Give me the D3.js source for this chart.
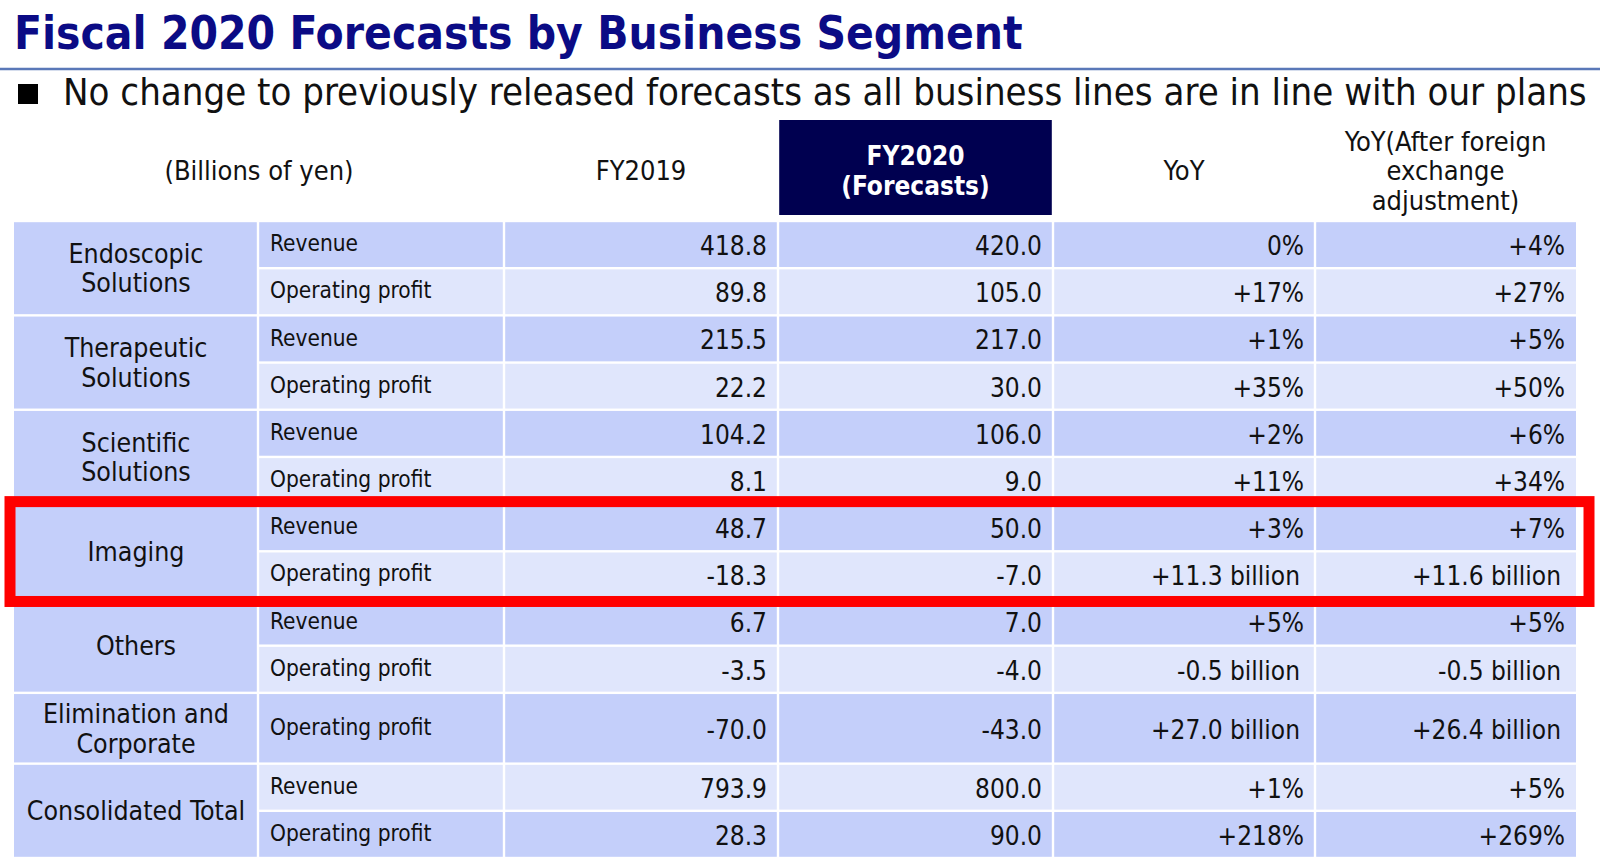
<!DOCTYPE html>
<html>
<head>
<meta charset="utf-8">
<script src="https://cdn.jsdelivr.net/npm/d3@7"></script>
<style>
  html, body { margin: 0; padding: 0; background: #fff; }
  svg text { font-family: "DejaVu Sans Condensed", "DejaVu Sans", sans-serif; font-stretch: condensed; }
</style>
</head>
<body>
<div id="chart"></div>
<script>
// table content
var title = "Fiscal 2020 Forecasts by Business Segment";
var subtitle = "No change to previously released forecasts as all business lines are in line with our plans";

var headers = [
  ["(Billions of yen)"],
  ["FY2019"],
  ["FY2020", "(Forecasts)"],
  ["YoY"],
  ["YoY(After foreign", "exchange", "adjustment)"]
];

var segments = [
  ["Endoscopic", "Solutions"],
  ["Therapeutic", "Solutions"],
  ["Scientific", "Solutions"],
  ["Imaging"],
  ["Others"],
  ["Elimination and", "Corporate"],
  ["Consolidated Total"]
];

var segmentItems = [
  ["Revenue", "Operating profit"],
  ["Revenue", "Operating profit"],
  ["Revenue", "Operating profit"],
  ["Revenue", "Operating profit"],
  ["Revenue", "Operating profit"],
  ["Operating profit"],
  ["Revenue", "Operating profit"]
];

var fy2019 = ["418.8", "89.8", "215.5", "22.2", "104.2", "8.1", "48.7", "-18.3", "6.7", "-3.5", "-70.0", "793.9", "28.3"];
var fy2020 = ["420.0", "105.0", "217.0", "30.0", "106.0", "9.0", "50.0", "-7.0", "7.0", "-4.0", "-43.0", "800.0", "90.0"];
var yoy = ["0%", "+17%", "+1%", "+35%", "+2%", "+11%", "+3%", "+11.3 billion", "+5%", "-0.5 billion", "+27.0 billion", "+1%", "+218%"];
var yoyFx = ["+4%", "+27%", "+5%", "+50%", "+6%", "+34%", "+7%", "+11.6 billion", "+5%", "-0.5 billion", "+26.4 billion", "+5%", "+269%"];

var highlighted = "Imaging";

// layout
var width = 1600, height = 862;
var colEdges = [14, 258, 504, 778, 1053, 1315, 1576];
var headerTop = 120, bodyTop = 221, bodyBottom = 858;
var gap = 2.4;
var darkFill = "#c4cffa", lightFill = "#e0e6fc";
var itemSize = 22.5, numSize = 26, labelSize = 26.5, headSize = 27;

var svg = d3.select("#chart")
  .append("svg")
    .attr("width", width)
    .attr("height", height);

// fit a text element to a target width
function fitWidth(sel, target) {
  var w = sel.node().getComputedTextLength();
  var fs = parseFloat(sel.attr("font-size"));
  sel.attr("font-size", fs * target / w);
}

// title
var titleText = svg.append("text")
  .attr("x", 14)
  .attr("y", 49)
  .attr("font-size", 46)
  .attr("font-weight", "bold")
  .attr("fill", "#0b0b85")
  .text(title);
fitWidth(titleText, 1009);

svg.append("line")
  .attr("x1", 0).attr("x2", width)
  .attr("y1", 69).attr("y2", 69)
  .attr("stroke", "#5a78b8")
  .attr("stroke-width", 2.5);

svg.append("rect")
  .attr("x", 18).attr("y", 84)
  .attr("width", 20).attr("height", 20)
  .attr("fill", "#000");

var subText = svg.append("text")
  .attr("x", 63)
  .attr("y", 105)
  .attr("font-size", 36)
  .attr("fill", "#111")
  .text(subtitle);
fitWidth(subText, 1524);

// build row list from segments
var rows = [];
var segRows = [];
var unit = 0, k = 0;
segments.forEach(function(seg, i) {
  var items = segmentItems[i];
  var h = items.length === 1 ? 1.5 : 1;
  var start = unit;
  items.forEach(function(item) {
    rows.push({
      segment: i, item: item, u0: unit, u1: unit + h, idx: k,
      values: [fy2019[k], fy2020[k], yoy[k], yoyFx[k]]
    });
    unit += h;
    k++;
  });
  segRows.push({ lines: seg, u0: start, u1: unit, name: seg.join(" ") });
});

var y = d3.scaleLinear()
  .domain([0, unit])
  .range([bodyTop, bodyBottom]);

// header
var head = svg.append("g");
head.append("rect")
  .attr("x", colEdges[3] + gap / 2)
  .attr("y", headerTop)
  .attr("width", colEdges[4] - colEdges[3] - gap)
  .attr("height", bodyTop - headerTop - 6)
  .attr("fill", "#000050");

var headerCenters = [
  (colEdges[0] + colEdges[2]) / 2,
  (colEdges[2] + colEdges[3]) / 2,
  (colEdges[3] + colEdges[4]) / 2,
  (colEdges[4] + colEdges[5]) / 2,
  (colEdges[5] + colEdges[6]) / 2
];
var headerMid = 170.5, lineH = 29.5;

headers.forEach(function(lines, i) {
  var t = head.append("text")
    .attr("text-anchor", "middle")
    .attr("font-size", i === 2 ? 26 : headSize)
    .attr("fill", i === 2 ? "#fff" : "#111")
    .attr("font-weight", i === 2 ? "bold" : "normal");
  t.selectAll("tspan")
    .data(lines)
    .enter()
    .append("tspan")
      .attr("x", headerCenters[i])
      .attr("y", function(d, j) { return headerMid + (j - (lines.length - 1) / 2) * lineH; })
      .attr("dy", "0.36em")
      .text(function(d) { return d; });
});

// segment cells
var segG = svg.append("g").selectAll("g")
  .data(segRows)
  .enter()
  .append("g");

segG.append("rect")
  .attr("x", colEdges[0])
  .attr("y", function(d) { return y(d.u0) + gap / 2; })
  .attr("width", colEdges[1] - colEdges[0] - gap / 2)
  .attr("height", function(d) { return y(d.u1) - y(d.u0) - gap; })
  .attr("fill", darkFill);

segG.append("text")
  .attr("text-anchor", "middle")
  .attr("font-size", labelSize)
  .attr("fill", "#111")
  .each(function(d) {
    var mid = (y(d.u0) + y(d.u1)) / 2;
    d3.select(this).selectAll("tspan")
      .data(d.lines)
      .enter()
      .append("tspan")
        .attr("x", (colEdges[0] + colEdges[1]) / 2)
        .attr("y", function(s, j) { return mid + (j - (d.lines.length - 1) / 2) * lineH; })
        .attr("dy", "0.36em")
        .text(function(s) { return s; });
  });

// body rows
var rowG = svg.append("g").selectAll("g")
  .data(rows)
  .enter()
  .append("g");

rowG.each(function(r) {
  var g = d3.select(this);
  var fill = r.idx % 2 === 0 ? darkFill : lightFill;
  var y0 = y(r.u0), y1 = y(r.u1), mid = (y0 + y1) / 2;
  for (var c = 1; c < 6; c++) {
    g.append("rect")
      .attr("x", colEdges[c] + gap / 2)
      .attr("y", y0 + gap / 2)
      .attr("width", colEdges[c + 1] - colEdges[c] - (c === 5 ? gap / 2 : gap))
      .attr("height", y1 - y0 - gap)
      .attr("fill", fill);
  }
  g.append("text")
    .attr("x", colEdges[1] + 12)
    .attr("y", mid - 1.5)
    .attr("dy", "0.36em")
    .attr("font-size", itemSize)
    .attr("fill", "#111")
    .text(r.item);
  r.values.forEach(function(v, j) {
    var pad = /billion$/.test(v) ? 15 : 11;
    g.append("text")
      .attr("x", colEdges[j + 3] - pad)
      .attr("y", mid + 1)
      .attr("dy", "0.36em")
      .attr("text-anchor", "end")
      .attr("font-size", numSize)
      .attr("fill", "#111")
      .text(v);
  });
});

// highlight box around the Imaging segment
var hl = segRows.filter(function(d) { return d.name === highlighted; })[0];
svg.append("rect")
  .attr("x", 10)
  .attr("y", y(hl.u0) - 2.5)
  .attr("width", 1579)
  .attr("height", y(hl.u1) - y(hl.u0) + 5.5)
  .attr("fill", "none")
  .attr("stroke", "#ff0000")
  .attr("stroke-width", 11);
</script>
</body>
</html>
